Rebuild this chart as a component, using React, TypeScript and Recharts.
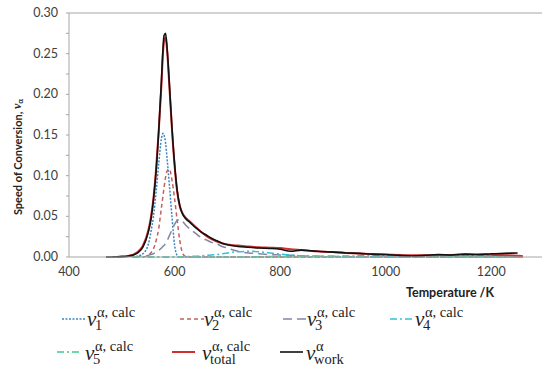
import { LineChart, Line, XAxis, YAxis, ReferenceLine, Legend } from "recharts";

// temperature grid, K
const temperature = [
  470, 480, 490, 500, 510, 520, 530, 540, 550, 555, 560, 565, 570, 575, 578, 580, 583, 586, 590, 595,
  600, 605, 610, 615, 620, 630, 640, 650, 660, 670, 680, 690, 700, 720, 740, 760, 780, 800, 820, 840,
  860, 880, 900, 925, 950, 975, 1000, 1025, 1050, 1075, 1100, 1125, 1150, 1175, 1200, 1225, 1250, 1260,
];

const vWork = [
  0, 0, 0.0003, 0.0005, 0.001, 0.002, 0.005, 0.012, 0.03, 0.045, 0.07, 0.105, 0.155, 0.215, 0.255, 0.272, 0.275, 0.256, 0.215, 0.16,
  0.115, 0.082, 0.063, 0.053, 0.048, 0.042, 0.036, 0.031, 0.027, 0.023, 0.02, 0.017, 0.015, 0.013, 0.012, 0.011, 0.0105, 0.0095, 0.007, 0.0085,
  0.0075, 0.0068, 0.006, 0.005, 0.0045, 0.0035, 0.003, 0.002, 0.0012, 0.002, 0.003, 0.0025, 0.0035, 0.003, 0.004, 0.0045, 0.005, null,
];

const vTotal = [
  null, null, 0, 0.0005, 0.001, 0.0025, 0.006, 0.014, 0.032, 0.048, 0.072, 0.108, 0.155, 0.21, 0.25, 0.265, 0.27, 0.253, 0.212, 0.158,
  0.113, 0.08, 0.062, 0.054, 0.049, 0.043, 0.037, 0.031, 0.026, 0.022, 0.019, 0.017, 0.0155, 0.014, 0.013, 0.012, 0.0115, 0.011, 0.0095, 0.0085,
  0.0075, 0.0065, 0.006, 0.005, 0.0042, 0.0035, 0.003, 0.0025, 0.002, 0.002, 0.0022, 0.0025, 0.003, 0.003, 0.0028, 0.0022, 0.0015, 0.001,
];

const v1Calc = [
  null, null, null, null, null, 0, 0.001, 0.004, 0.015, 0.03, 0.05, 0.08, 0.115, 0.145, 0.152, 0.15, 0.14, 0.12, 0.09, 0.05,
  0.015, 0.002, 0, 0, 0, 0, 0, 0, 0, 0, 0, 0, 0, 0, 0, 0, 0, 0, 0, 0,
  0, 0, 0, 0, 0, 0, 0, 0, 0, 0, 0, 0, 0, 0, 0, 0, 0, 0,
];

const v2Calc = [
  null, null, null, null, null, null, null, 0, 0.002, 0.005, 0.01, 0.02, 0.035, 0.06, 0.075, 0.085, 0.098, 0.106, 0.108, 0.095,
  0.072, 0.045, 0.02, 0.005, 0.001, 0, 0, 0, 0, 0, 0, 0, 0, 0, 0, 0, 0, 0, 0, 0,
  0, 0, 0, 0, 0, 0, 0, 0, 0, 0, 0, 0, 0, 0, 0, 0, 0, 0,
];

const v3Calc = [
  null, null, null, null, null, 0, 0.0005, 0.001, 0.002, 0.003, 0.004, 0.006, 0.008, 0.011, 0.013, 0.014, 0.017, 0.02, 0.026, 0.033,
  0.04, 0.045, 0.046, 0.044, 0.04, 0.034, 0.029, 0.024, 0.021, 0.018, 0.016, 0.013, 0.011, 0.007, 0.005, 0.004, 0.003, 0.0025, 0.002, 0.0015,
  0.001, 0.001, 0.0008, 0.0005, 0.0003, 0, 0, 0, 0, 0, 0, 0, 0, 0, 0, 0, 0, 0,
];

const v4Calc = [
  null, null, null, null, null, 0, 0, 0, 0, 0, 0, 0, 0, 0, 0, 0, 0, 0, 0, 0,
  0, 0, 0.0002, 0.0003, 0.0005, 0.0008, 0.001, 0.0015, 0.002, 0.0025, 0.003, 0.004, 0.005, 0.0065, 0.007, 0.0065, 0.005, 0.0035, 0.0025, 0.0015,
  0.001, 0.0005, 0.0003, 0.0002, 0.0002, 0.0003, 0.0005, 0.0005, 0.0008, 0.001, 0.001, 0.0015, 0.002, 0.0015, 0.002, 0.001, 0, 0,
];

const v5Calc = [
  null, null, null, null, null, 0, 0, 0, 0, 0, 0, 0, 0, 0, 0, 0, 0, 0, 0, 0,
  0, 0, 0, 0, 0, 0, 0, 0, 0, 0, 0, 0, 0, 0, 0.0002, 0.0003, 0.0005, 0.0006, 0.0008, 0.001,
  0.001, 0.001, 0.001, 0.0012, 0.0015, 0.0018, 0.002, 0.0018, 0.0015, 0.0012, 0.001, 0.0008, 0.0005, 0.0003, 0, 0, 0, 0,
];

const xTicks = [400, 600, 800, 1000, 1200];
const yTicks = [0, 0.025, 0.05, 0.075, 0.1, 0.125, 0.15, 0.175, 0.2, 0.225, 0.25, 0.275, 0.3];

const data = temperature.map((t, i) => ({
  t,
  v1: v1Calc[i],
  v2: v2Calc[i],
  v3: v3Calc[i],
  v4: v4Calc[i],
  v5: v5Calc[i],
  total: vTotal[i],
  work: vWork[i],
}));

const sans = "Lato, 'Open Sans', sans-serif";
const serif = "'Liberation Serif', serif";
const tickFont = { fontFamily: sans, fontSize: 12.5, fill: "#404040" };

const series = [
  { key: "v1", color: "#3A86C0", dash: "2 1.5", width: 1.5, sub: "1", sup: "α, calc" },
  { key: "v2", color: "#C2625E", dash: "4 3", width: 1.5, sub: "2", sup: "α, calc" },
  { key: "v3", color: "#8585A3", dash: "9 5", width: 1.5, sub: "3", sup: "α, calc" },
  { key: "v4", color: "#35C1D9", dash: "7 3 2 3", width: 1.5, sub: "4", sup: "α, calc" },
  { key: "v5", color: "#3CCB8F", dash: "7 3 2 3", width: 1.5, sub: "5", sup: "α, calc" },
  { key: "total", color: "#D32F2F", dash: undefined, width: 2, sub: "total", sup: "α, calc" },
  { key: "work", color: "#111111", dash: undefined, width: 1.6, sub: "work", sup: "α" },
];

// legend layout: [line x1, line x2, v x, row]
const legendPos = [
  [62, 86, 87, 0],
  [180, 204, 204, 0],
  [283, 307, 307, 0],
  [390, 413, 415, 0],
  [57, 82, 85, 1],
  [172, 195, 202, 1],
  [280, 303, 306, 1],
];

function LegendBox() {
  return (
    <svg width={542} height={72} style={{ display: "block" }}>
      {series.map((s, i) => {
        const [x1, x2, vx, row] = legendPos[i];
        const ly = row === 0 ? 24 : 57;
        const vb = row === 0 ? 31 : 65;
        return (
          <g key={s.key}>
            <line x1={x1} x2={x2} y1={ly} y2={ly} stroke={s.color} strokeWidth={s.width} strokeDasharray={s.dash} />
            <text x={vx} y={vb} fontFamily={serif} fontSize={14.5} fill="#222">
              <tspan fontStyle="italic" fontSize={21}>v</tspan>
              <tspan x={vx + 10} y={vb - 9}>{s.sup}</tspan>
              <tspan x={vx + 8} y={vb + 4}>{s.sub}</tspan>
            </text>
          </g>
        );
      })}
    </svg>
  );
}

function YTick(props: any) {
  const { x, y, payload } = props;
  const v = payload.value;
  const major = Math.abs(v * 20 - Math.round(v * 20)) < 1e-6;
  return (
    <g>
      <line x1={x + 8} x2={x + 11} y1={y} y2={y} stroke="#A6A6A6" />
      {major && (
        <text x={x} y={y} dy={4} textAnchor="end" {...tickFont}>
          {v.toFixed(2)}
        </text>
      )}
    </g>
  );
}

export default function App() {
  return (
    <div style={{ position: "absolute", left: 0, top: 0, width: 542, height: 367, overflow: "hidden", background: "#fff" }}>
      <LineChart width={544} height={367} data={data} margin={{ top: 13, right: 0, bottom: 80, left: 0 }}>
        <XAxis
          dataKey="t"
          type="number"
          domain={[400, 1300]}
          ticks={xTicks}
          tickLine={false}
          tickSize={0}
          tickMargin={10}
          axisLine={{ stroke: "#A6A6A6" }}
          tick={tickFont}
          height={30}
          allowDataOverflow
          label={{
            content: () => (
              <text x={450} y={297} textAnchor="middle" fontFamily={sans} fontWeight={700} fontSize={12.5} fill="#222">
                Temperature /K
              </text>
            ),
          }}
        />
        <YAxis
          type="number"
          domain={[0, 0.3]}
          ticks={yTicks}
          interval={0}
          width={69}
          tickLine={false}
          tickSize={0}
          tickMargin={11}
          axisLine={{ stroke: "#A6A6A6" }}
          tick={<YTick />}
          label={{
            content: () => (
              <text
                x={17}
                y={157}
                transform="rotate(-90, 17, 157)"
                textAnchor="middle"
                dominantBaseline="central"
                fontFamily={sans}
                fontWeight={700}
                fontSize={11}
                fill="#222"
              >
                Speed of Conversion, <tspan fontFamily={serif} fontStyle="italic" fontSize={12}>v</tspan>
                <tspan fontSize={8} dy={3}>α</tspan>
              </text>
            ),
          }}
        />
        <ReferenceLine y={0.3} stroke="#A6A6A6" />
        {series.map((s) => (
          <Line
            key={s.key}
            type="monotone"
            dataKey={s.key}
            stroke={s.color}
            strokeWidth={s.width}
            strokeDasharray={s.dash}
            dot={false}
            activeDot={false}
            isAnimationActive={false}
          />
        ))}
        <Legend
          layout="horizontal"
          verticalAlign="middle"
          align="center"
          wrapperStyle={{ top: 295, left: 0, width: 542, height: 72 }}
          content={() => <LegendBox />}
        />
      </LineChart>
    </div>
  );
}
